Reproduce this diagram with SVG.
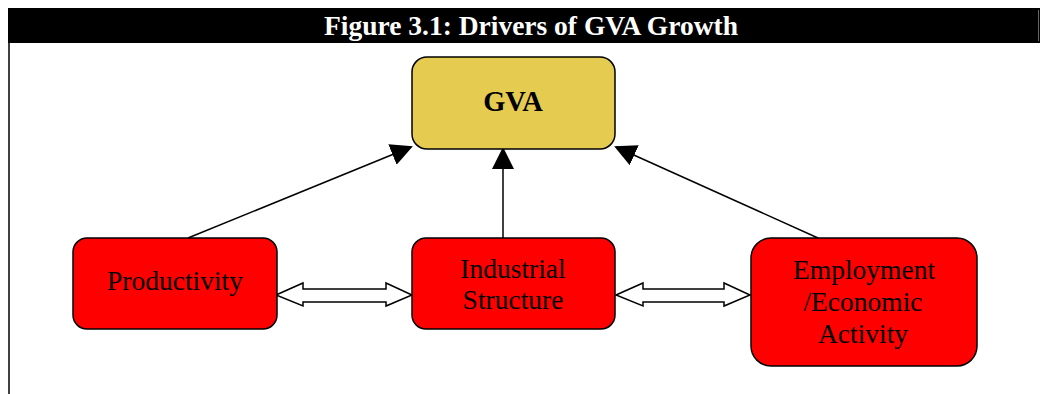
<svg xmlns="http://www.w3.org/2000/svg" width="1042" height="394" viewBox="0 0 1042 394">
<style>
.box{stroke:#000;stroke-width:1.5}
.red{fill:#FF0000}
.t{font-family:"Liberation Serif","Times New Roman",serif;fill:#000;text-anchor:middle;font-size:27.5px}
.b{font-weight:bold}
.conn line{stroke:#000;stroke-width:1.5}
.dbl{fill:#fff;stroke:#000;stroke-width:1.5;stroke-linejoin:miter}
</style>
<defs>
<marker id="ah2" markerWidth="22" markerHeight="22" refX="20" refY="11" orient="auto" markerUnits="userSpaceOnUse" viewBox="0 0 22 22">
<path d="M0,0 L22,11 L0,22 z" fill="#000"/>
</marker>
</defs>
<rect x="0" y="0" width="1042" height="394" fill="#fff"/>
<g id="frame">
<rect x="8" y="8" width="1032" height="35" fill="#000"/>
<line x1="1038.5" y1="10" x2="1038.5" y2="41" stroke="#666" stroke-width="1"/>
<line x1="9" y1="43" x2="9" y2="394" stroke="#000" stroke-width="1.5"/>
<text x="531" y="35" class="t b" style="fill:#fff;font-size:27.5px">Figure 3.1: Drivers of GVA Growth</text>
</g>
<g id="connectors" class="conn">
<line x1="188" y1="238" x2="411" y2="147" marker-end="url(#ah2)"/>
<line x1="503" y1="238" x2="503" y2="149" marker-end="url(#ah2)"/>
<line x1="818" y1="238" x2="616" y2="147" marker-end="url(#ah2)"/>
<path class="dbl" d="M276,295 L303,283 L303,289 L386,289 L386,283 L412,295 L386,306 L386,302 L303,302 L303,306 Z"/>
<path class="dbl" d="M616,295 L643,283 L643,289 L724,289 L724,283 L750,295 L724,306 L724,302 L643,302 L643,306 Z"/>
</g>
<g id="gva">
<rect class="box" x="412" y="57" width="203" height="92" rx="15" fill="#E5CC50"/>
<text class="t b" x="513" y="111" style="font-size:28.5px">GVA</text>
</g>
<g id="productivity">
<rect class="box red" x="73" y="238" width="204" height="91" rx="14"/>
<text class="t" x="175" y="290">Productivity</text>
</g>
<g id="industrial">
<rect class="box red" x="412" y="238" width="203" height="91" rx="14"/>
<text class="t" x="513" y="278">Industrial</text>
<text class="t" x="513" y="309">Structure</text>
</g>
<g id="employment">
<rect class="box red" x="751" y="238" width="226" height="128" rx="20"/>
<text class="t" x="864" y="279">Employment</text>
<text class="t" x="863" y="311">/Economic</text>
<text class="t" x="863" y="343">Activity</text>
</g>
</svg>
